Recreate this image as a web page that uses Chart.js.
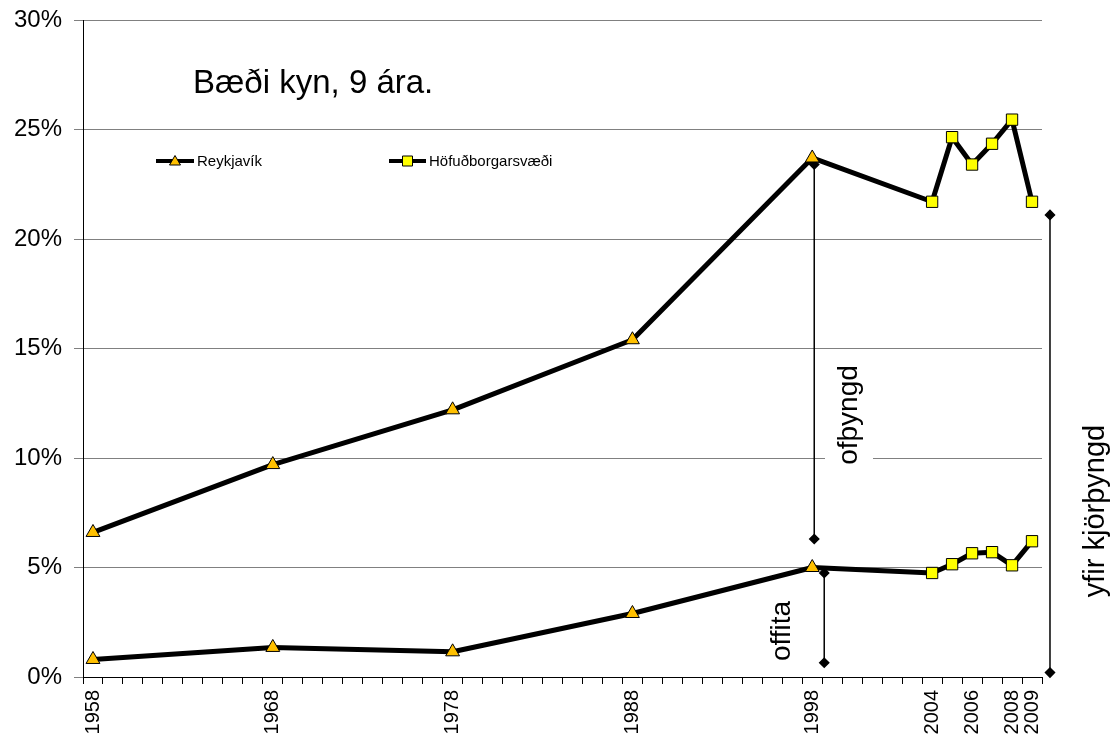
<!DOCTYPE html>
<html lang="is">
<head>
    <meta charset="UTF-8">
    <title>Bæði kyn, 9 ára</title>
    <script src="https://cdn.jsdelivr.net/npm/chart.js"></script>
    <style>
        body { margin: 0; background: #fff; }
        #chart { display: block; }
    </style>
</head>
<body>
    <canvas id="chart" width="1119" height="738"></canvas>

    <script>
        // Years measured and the category slot each one sits in on the x axis
        const reykYears = [1958, 1968, 1978, 1988, 1998];
        const reykSlots = [0, 9, 18, 27, 36];
        const hofYears = [2004, 2005, 2006, 2007, 2008, 2009];
        const hofSlots = [42, 43, 44, 45, 46, 47];
        const slotCount = 48;

        // Tick labels shown under the axis
        const tickYears = ['1958', '1968', '1978', '1988', '1998', '2004', '2006', '2008', '2009'];
        const tickSlots = [0, 9, 18, 27, 36, 42, 44, 46, 47];

        // Percent of children (%)
        const reykOfthyngd = [6.6, 9.7, 12.2, 15.4, 23.7];
        const reykOffita = [0.8, 1.35, 1.15, 2.9, 5.0];
        const hofOfthyngd = [21.7, 24.65, 23.4, 24.35, 25.45, 21.7];
        const hofOffita = [4.75, 5.15, 5.65, 5.7, 5.1, 6.2];

        // Range markers (vertical lines with diamonds)
        const rangeNames = ['ofþyngd', 'offita', 'yfir kjörþyngd'];
        const rangeSlots = [36.1, 36.6, 47.9];
        const rangeLow = [6.3, 0.65, 0.2];
        const rangeHigh = [23.4, 4.75, 21.1];

        const labels = [];
        for (let i = 0; i < slotCount; i++) labels.push('');
        tickSlots.forEach((s, i) => { labels[s] = tickYears[i]; });

        const FONT = "'Liberation Sans', Arial, sans-serif";
        const TRI_FILL = '#FFC000';
        const SQ_FILL = '#FFFF00';

        // Reykjavík points (triangles) run straight on into the capital area points (squares)
        const allSlots = reykSlots.concat(hofSlots);
        const shapes = reykSlots.map(() => 'triangle').concat(hofSlots.map(() => 'rect'));
        const fills = reykSlots.map(() => TRI_FILL).concat(hofSlots.map(() => SQ_FILL));
        const radii = reykSlots.map(() => 8).concat(hofSlots.map(() => 8));

        function series(label, vals) {
            return {
                label: label,
                xAxisID: 'xs',
                data: allSlots.map((s, i) => ({ x: s, y: vals[i] })),
                borderColor: '#000',
                borderWidth: 5,
                borderJoinStyle: 'round',
                tension: 0,
                fill: false,
                pointStyle: shapes,
                pointRadius: radii,
                pointHoverRadius: radii,
                pointBackgroundColor: fills,
                pointBorderColor: '#000',
                pointBorderWidth: 1
            };
        }

        const datasets = [
            series('ofþyngd', reykOfthyngd.concat(hofOfthyngd)),
            series('offita', reykOffita.concat(hofOffita))
        ];
        rangeNames.forEach((name, i) => {
            datasets.push({
                label: name,
                xAxisID: 'xs',
                data: [{ x: rangeSlots[i], y: rangeLow[i] }, { x: rangeSlots[i], y: rangeHigh[i] }],
                borderColor: '#000',
                borderWidth: 1.5,
                pointStyle: 'rectRot',
                pointRadius: 4.5,
                pointHoverRadius: 12,   // keeps the diamond drawn when it sits right of the plot
                pointBackgroundColor: '#000',
                pointBorderColor: '#000',
                clip: false
            });
        });

        function legendMark(ctx, shape, x, y, fill) {
            ctx.fillStyle = fill;
            ctx.strokeStyle = '#000';
            ctx.lineWidth = 1;
            ctx.beginPath();
            if (shape === 'triangle') {
                ctx.moveTo(x, y - 5.5);
                ctx.lineTo(x + 5.5, y + 4);
                ctx.lineTo(x - 5.5, y + 4);
                ctx.closePath();
            } else {
                ctx.rect(x - 5, y - 5, 10, 10);
            }
            ctx.fill();
            ctx.stroke();
        }

        function verticalText(ctx, text, x, y, size) {
            ctx.save();
            ctx.translate(x, y);
            ctx.rotate(-Math.PI / 2);
            ctx.font = size + 'px ' + FONT;
            ctx.fillStyle = '#000';
            ctx.textAlign = 'center';
            ctx.textBaseline = 'middle';
            ctx.fillText(text, 0, 0);
            ctx.restore();
        }

        const notes = {
            id: 'notes',
            beforeDatasetsDraw(chart) {
                const ctx = chart.ctx;
                const a = chart.chartArea;
                // gap in the 10% gridline behind the label
                ctx.save();
                ctx.fillStyle = '#fff';
                ctx.fillRect(a.left + 742, 358, 48, 114);
                ctx.restore();
            },
            afterDraw(chart) {
                const ctx = chart.ctx;
                const a = chart.chartArea;
                ctx.save();
                ctx.fillStyle = '#000';
                ctx.font = '33px ' + FONT;
                ctx.textBaseline = 'alphabetic';
                ctx.fillText('Bæði kyn, 9 ára.', a.left + 110, 93);

                // legend
                const ly = 161;
                ctx.strokeStyle = '#000';
                ctx.lineWidth = 4;
                ctx.beginPath();
                ctx.moveTo(156, ly); ctx.lineTo(194, ly);
                ctx.moveTo(389, ly); ctx.lineTo(426, ly);
                ctx.stroke();
                legendMark(ctx, 'triangle', 175, ly, TRI_FILL);
                legendMark(ctx, 'rect', 407.5, ly, SQ_FILL);
                ctx.fillStyle = '#000';
                ctx.font = '15px ' + FONT;
                ctx.textBaseline = 'middle';
                ctx.fillText('Reykjavík', 197, ly + 1);
                ctx.fillText('Höfuðborgarsvæði', 429, ly + 1);
                ctx.restore();

                verticalText(ctx, rangeNames[0], 849, 415, 28);
                verticalText(ctx, rangeNames[1], 782, 631, 28);
                verticalText(ctx, rangeNames[2], 1096, 511, 29);
            }
        };

        new Chart(document.getElementById('chart').getContext('2d'), {
            type: 'line',
            data: { labels: labels, datasets: datasets },
            options: {
                responsive: false,
                animation: false,
                events: [],
                layout: { padding: { top: 20, right: 77, left: 0, bottom: 0 } },
                plugins: {
                    legend: { display: false },
                    tooltip: { enabled: false }
                },
                scales: {
                    x: {
                        type: 'category',
                        offset: true,
                        afterFit(scale) {
                            scale.height = 61;
                            scale.paddingLeft = 0;
                            scale.paddingRight = 0;
                        },
                        grid: {
                            offset: true,
                            drawOnChartArea: false,
                            drawTicks: true,
                            tickLength: 7,
                            color: '#000'
                        },
                        border: { color: '#000', width: 1 },
                        ticks: {
                            autoSkip: false,
                            minRotation: 90,
                            maxRotation: 90,
                            padding: 6,
                            color: '#000',
                            font: { family: FONT, size: 20 }
                        }
                    },
                    xs: {
                        type: 'linear',
                        display: false,
                        min: -0.5,
                        max: slotCount - 0.5
                    },
                    y: {
                        min: 0,
                        max: 30,
                        afterFit(scale) {
                            scale.width = 83;
                            scale.paddingTop = 0;
                            scale.paddingBottom = 0;
                        },
                        grid: { color: '#808080', lineWidth: 1, tickLength: 9 },
                        border: { color: '#000', width: 1 },
                        ticks: {
                            stepSize: 5,
                            padding: 12,
                            color: '#000',
                            font: { family: FONT, size: 24 },
                            callback: v => v + '%'
                        }
                    }
                }
            },
            plugins: [notes]
        });
    </script>
</body>
</html>
